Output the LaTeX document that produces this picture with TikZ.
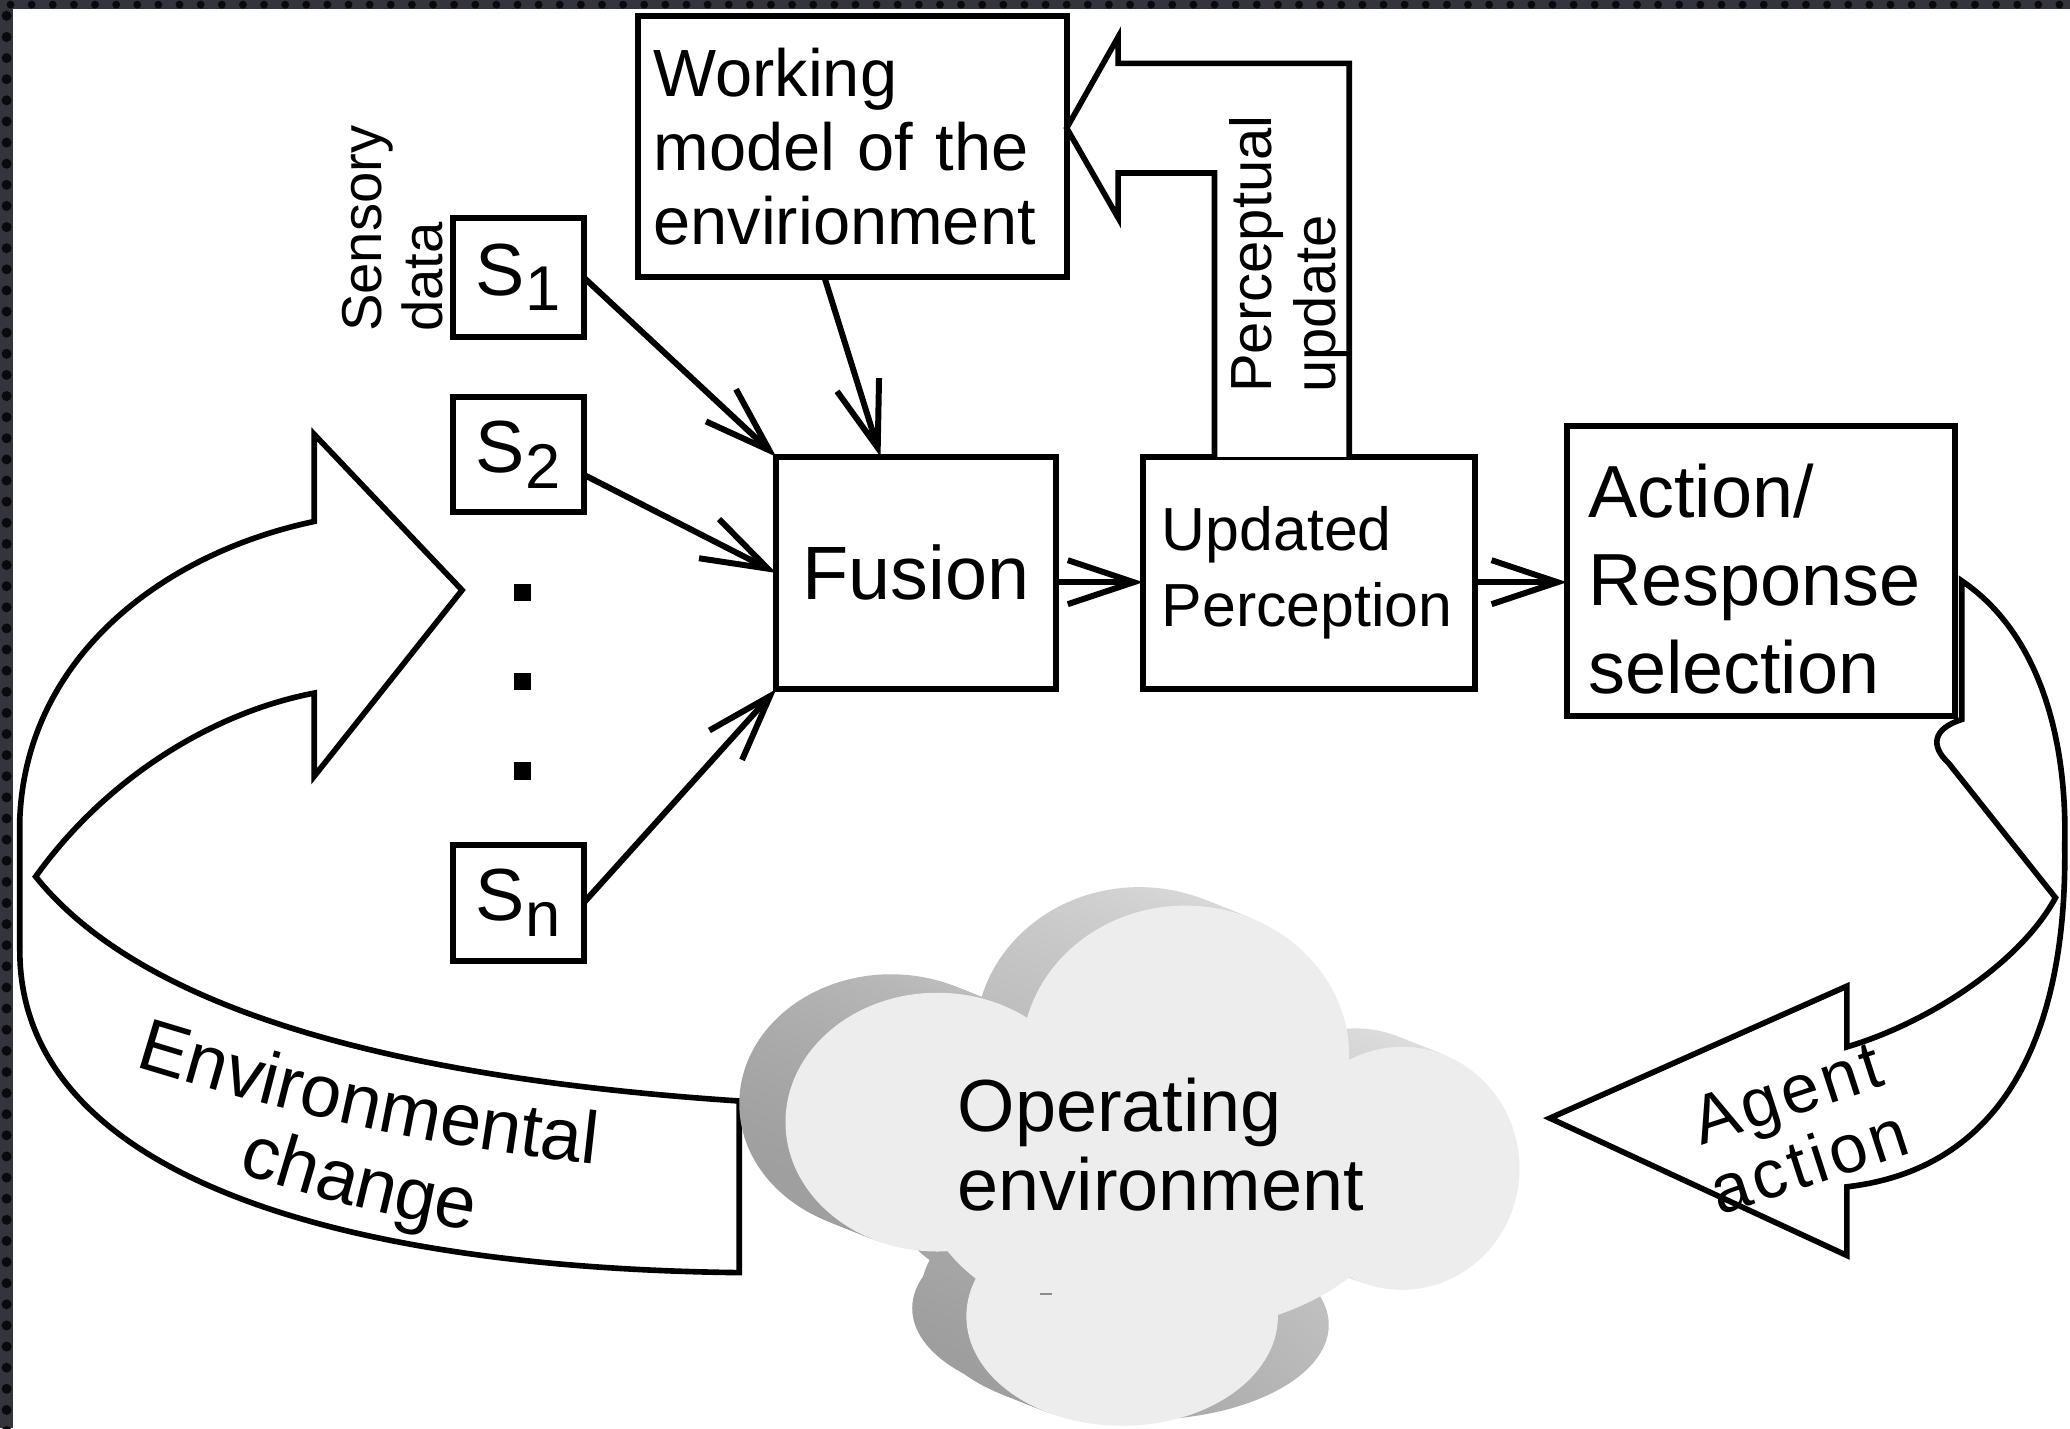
\documentclass[tikz,border=0pt]{standalone}
\usepackage{fontspec}
\setmainfont{Liberation Sans}
\usetikzlibrary{arrows.meta,calc,decorations.text}

% one drawing unit, used for sizes given as numbers
\newcommand\pxu{0.0132cm}
\newcommand\fs[2]{\fontsize{#1}{#2}\selectfont}
\newcommand\sub[1]{\raisebox{-4.5pt}{\fs{18}{18}#1}}

% the cloud as a union of overlapping ellipses, shifted by (#1,#2)
\newcommand\cloudpath[2]{%
  ({898+(#1)},{800+(#2)}) ellipse [x radius=124, y radius=114]
  ({710+(#1)},{850+(#2)}) ellipse [x radius=115, y radius=98]
  ({1062+(#1)},{885+(#2)}) ellipse [x radius=89, y radius=92]
  ({850+(#1)},{997+(#2)}) ellipse [x radius=118, y radius=83]
  ({880+(#1)},{900+(#2)}) ellipse [x radius=180, y radius=110]}
% the deeper bottom lobe, seen only as the side of the cloud
\newcommand\cloudback[2]{%
  ({868+(#1)},{1005+(#2)}) ellipse [x radius=142, y radius=72]}

\definecolor{framebg}{HTML}{34343C}
\definecolor{framedot}{HTML}{0A0A0E}

\begin{document}
\begin{tikzpicture}[x=0.0132cm, y=-0.0132cm,
  box/.style={draw, line width=1.7pt, fill=white, inner sep=0pt, outer sep=0pt},
  sensor/.style={box, minimum width=99*\pxu, font=\fs{21}{24}},
  arr/.style={line width=1.7pt, -{Straight Barb[length=0.66cm, width=0.44cm]}},
  blockarrow/.style={draw, line width=1.6pt, fill=white, line join=miter},
  rottext/.style={rotate=90, anchor=west, align=left, inner sep=0pt},
  side/.style={top color=black!12, bottom color=black!40, shading angle=-45}]

\useasboundingbox (0,0) rectangle (1568,1082);
\fill[white] (0,0) rectangle (1568,1082);

% dark patterned frame along the top and left edges
\fill[framebg] (0,0) rectangle (1568,7);
\fill[framebg] (0,0) rectangle (10,1082);
\foreach \i in {0,...,97} \fill[framedot] (\i*16+8,3.5) circle [radius=3];
\foreach \j in {0,...,67} \fill[framedot] (5,\j*16+12) circle [radius=3.8];

% ---------- boxes ----------
\node[box, minimum width=325*\pxu, minimum height=198*\pxu, text width=301*\pxu,
      inner xsep=12*\pxu, align=left, font=\fs{19}{21}] (W) at (645.5,111)
      {Working\\model of the\\envirionment};
\node[box, minimum width=212*\pxu, minimum height=176*\pxu, font=\fs{21.5}{24}] (F) at (694,434) {Fusion};
\node[box, minimum width=251*\pxu, minimum height=176*\pxu, text width=223*\pxu,
      inner xsep=14*\pxu, align=left, font=\fs{17.3}{21.8}] (U) at (991.5,434)
      {Updated\\Perception};
\node[box, minimum width=294*\pxu, minimum height=219*\pxu, text width=262*\pxu,
      inner xsep=16*\pxu, align=left, font=\fs{21}{25}, text height=20pt] (A) at (1334,432.5)
      {Action/\\Response\\selection};

\node[sensor, minimum height=90*\pxu] (S1) at (392.5,210) {S\sub{1}};
\node[sensor, minimum height=87*\pxu] (S2) at (392.5,344.5) {S\sub{2}};
\node[sensor, minimum height=88*\pxu] (Sn) at (392.5,684) {S\sub{n}};

\node[rottext, font=\fs{16}{17.3}] (SD) at (297.5,252) {Sensory\\data};

\foreach \y/\n in {449/d1, 516/d2, 584/d3}
  \node[fill=black, minimum size=13*\pxu, inner sep=0pt] (\n) at (396,\y) {};

% ---------- connectors ----------
\draw[arr] (S1.east) -- (F.north west);
\draw[arr] ($(S2.east)+(0,15)$) -- (F.west);
\draw[arr] (Sn.east) -- (F.south west);
\draw[arr] ($(W.south)+(-21,0)$) -- ($(F.north)+(-27,0)$);
\coordinate (fa) at ($(F.east)+(0,7)$);
\draw[arr] (fa) -- (fa -| U.west);
\coordinate (ua) at ($(U.east)+(0,7)$);
\draw[arr] (ua) -- (ua -| A.west);

% perceptual update: block arrow from the perception box back to the model
\coordinate (pu1) at ($(U.north west)+(54,0)$);
\coordinate (pu2) at ($(U.north west)+(156,0)$);
\coordinate (putip) at ($(W.east)+(0,-14)$);
\draw[blockarrow] (pu1) -- (920,131) -- (847,131) -- (847,165) -- (putip)
  -- (847,28) -- (847,48) -- (1022,48) -- (pu2);
\node[rottext, font=\fs{16.5}{18}] (PU) at (976,298) {Perceptual\\update};

% ---------- environmental change: curved block arrow ----------
\draw[blockarrow] (560,834) .. controls (350,820) and (120,780) .. (27,664)
  .. controls (80,590) and (160,540) .. (238,525)
  -- (238,588) -- (350,447) -- (238,329) -- (238,395)
  .. controls (120,420) and (20,500) .. (15,620)
  -- (15,720)
  .. controls (15,880) and (230,960) .. (560,964) -- cycle;
\path[decorate, decoration={text along path, text={|\fs{21}{21}|Environmental}}]
  (102,808) .. controls (222,845) and (342,873) .. (492,886);
\path[decorate, decoration={text along path, text={|\fs{21}{21}|change}}]
  (180,888) .. controls (242,908) and (302,925) .. (387,937);

% ---------- agent action: curved block arrow ----------
\draw[blockarrow] (1486,440) .. controls (1545,480) and (1566,560) .. (1564,640)
  .. controls (1566,780) and (1520,885) .. (1399,899)
  -- (1399,951) -- (1174,847) -- (1399,747) -- (1399,793)
  .. controls (1460,775) and (1530,730) .. (1557,680)
  -- (1476,578) .. controls (1462,565) and (1464,552) .. (1486,545) -- cycle;
\node[rotate=18, align=center, inner sep=0pt,
      font=\fs{19.5}{20.5}\addfontfeature{LetterSpace=6}] (AA) at (1362,854) {Agent\\action};

% ---------- operating environment: extruded cloud ----------
\foreach \t in {0,0.1,...,0.95} {
  \pgfmathsetmacro\dx{-35*(1-\t)}
  \pgfmathsetmacro\dy{-14*(1-\t)}
  \shade[side] \cloudpath{\dx}{\dy} \cloudback{\dx}{\dy};
}
\fill[black!7] \cloudpath{0}{0};
\draw[black!45, line width=0.6pt] (788,980) -- (797,980);
\node[align=left, anchor=west, inner sep=0pt, font=\fs{21}{22.5}] (OE) at (725,867)
  {Operating\\environment};

\end{tikzpicture}
\end{document}
